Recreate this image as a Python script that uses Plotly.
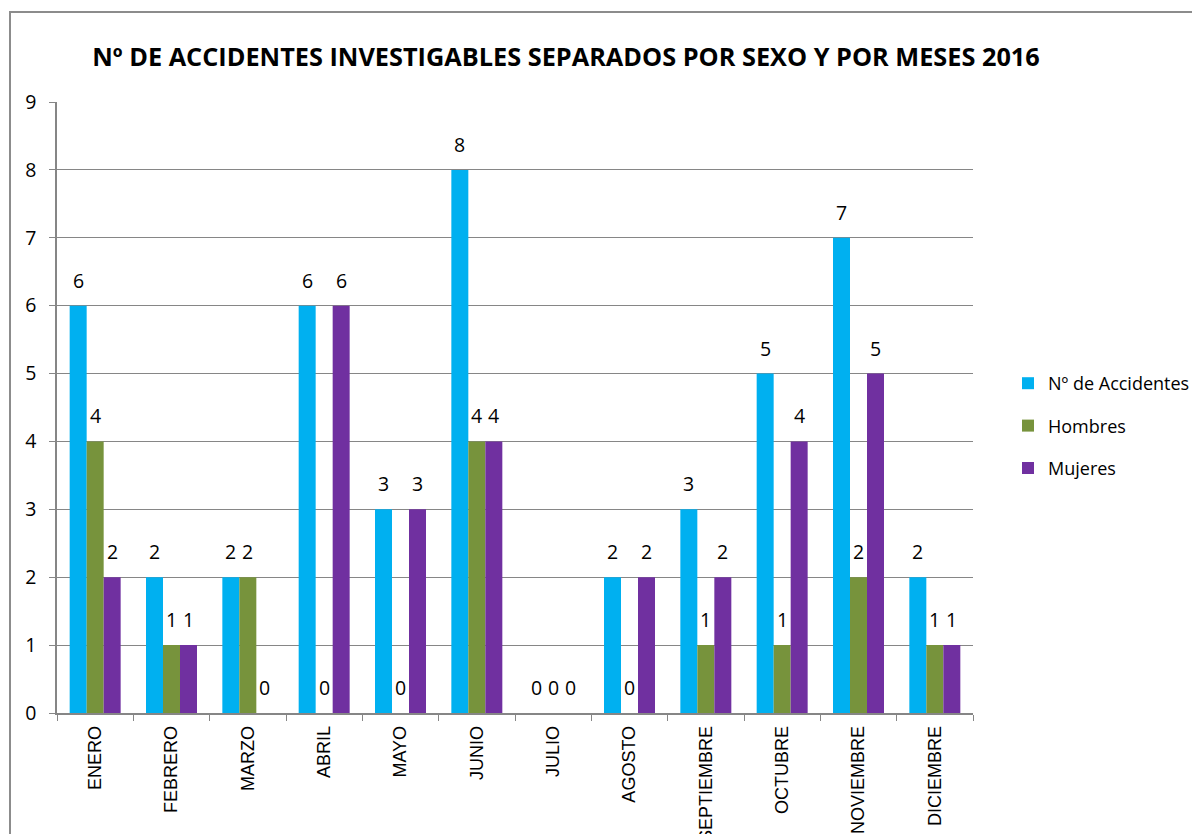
import plotly.graph_objects as go

meses = ["ENERO", "FEBRERO", "MARZO", "ABRIL", "MAYO", "JUNIO", "JULIO",
         "AGOSTO", "SEPTIEMBRE", "OCTUBRE", "NOVIEMBRE", "DICIEMBRE"]
accidentes = [6, 2, 2, 6, 3, 8, 0, 2, 3, 5, 7, 2]
hombres = [4, 1, 2, 0, 0, 4, 0, 0, 1, 1, 2, 1]
mujeres = [2, 1, 0, 6, 3, 4, 0, 2, 2, 4, 5, 1]

series = [
    ("Nº de Accidentes", accidentes, "#00B0F0"),
    ("Hombres", hombres, "#77933C"),
    ("Mujeres", mujeres, "#7030A0"),
]

# page body has an 8px margin, so figure coords = screen coords - 8
OFF = 8
L, R, T, B = 57 - OFF, 973 - OFF, 102 - OFF, 713 - OFF
W, H = R - L, B - T
BARGAP = 0.332
bar_px = W / len(meses) * (1 - BARGAP) / len(series)

def px(x):
    return (x - OFF - L) / W

def py(y):
    return (B - (y - OFF)) / H

fig = go.Figure()
for i, (name, vals, col) in enumerate(series):
    fig.add_trace(go.Bar(
        x=meses, y=vals, name=name, legendgroup=name,
        marker=dict(color=col, line=dict(width=0)),
    ))
    for m, v in zip(meses, vals):
        fig.add_annotation(
            x=m, y=v, text=str(v), showarrow=False,
            xanchor="center", yanchor="bottom",
            xshift=(i - 1) * bar_px, yshift=10,
            font=dict(family="Open Sans", size=19.5, color="black"),
        )

fig.update_layout(
    width=1200, height=834,
    margin=dict(l=L, r=1200 - R, t=T, b=834 - B, autoexpand=False),
    paper_bgcolor="white", plot_bgcolor="white",
    barmode="group", bargap=BARGAP, bargroupgap=0,
    title=dict(text="<b>Nº DE ACCIDENTES INVESTIGABLES SEPARADOS POR SEXO Y POR MESES 2016</b>",
               x=(566 - OFF) / 1200, xanchor="center", y=1 - (57 - OFF) / 834, yanchor="middle",
               font=dict(family="Open Sans", size=25.3, color="black")),
    legend=dict(x=px(1008), xanchor="left", y=py(426), yanchor="middle",
                font=dict(family="Open Sans", size=18, color="black"),
                tracegroupgap=16, traceorder="grouped", itemwidth=30),
    showlegend=True,
)
fig.update_xaxes(
    type="category", tickangle=-90, tickson="boundaries",
    ticks="outside", ticklen=6, tickcolor="#868686",
    showline=True, linecolor="#868686", linewidth=1.5,
    tickfont=dict(family="Liberation Sans", size=18, color="black"),
    ticklabelstandoff=4,
    showgrid=False,
)
fig.update_yaxes(
    range=[0, 9], dtick=1, tick0=0,
    ticks="outside", ticklen=6, tickcolor="#868686",
    showline=True, linecolor="#868686", linewidth=1.5,
    showgrid=True, gridcolor="#868686", gridwidth=1.2,
    tickfont=dict(family="Open Sans", size=19.5, color="black"),
    ticklabelstandoff=9,
    zeroline=False,
)
fig.add_shape(type="rect", xref="paper", yref="paper",
              x0=px(10), x1=px(1215), y0=py(850), y1=py(12),
              line=dict(color="#8C8C8C", width=2), layer="above")

fig.write_html("out.html")
